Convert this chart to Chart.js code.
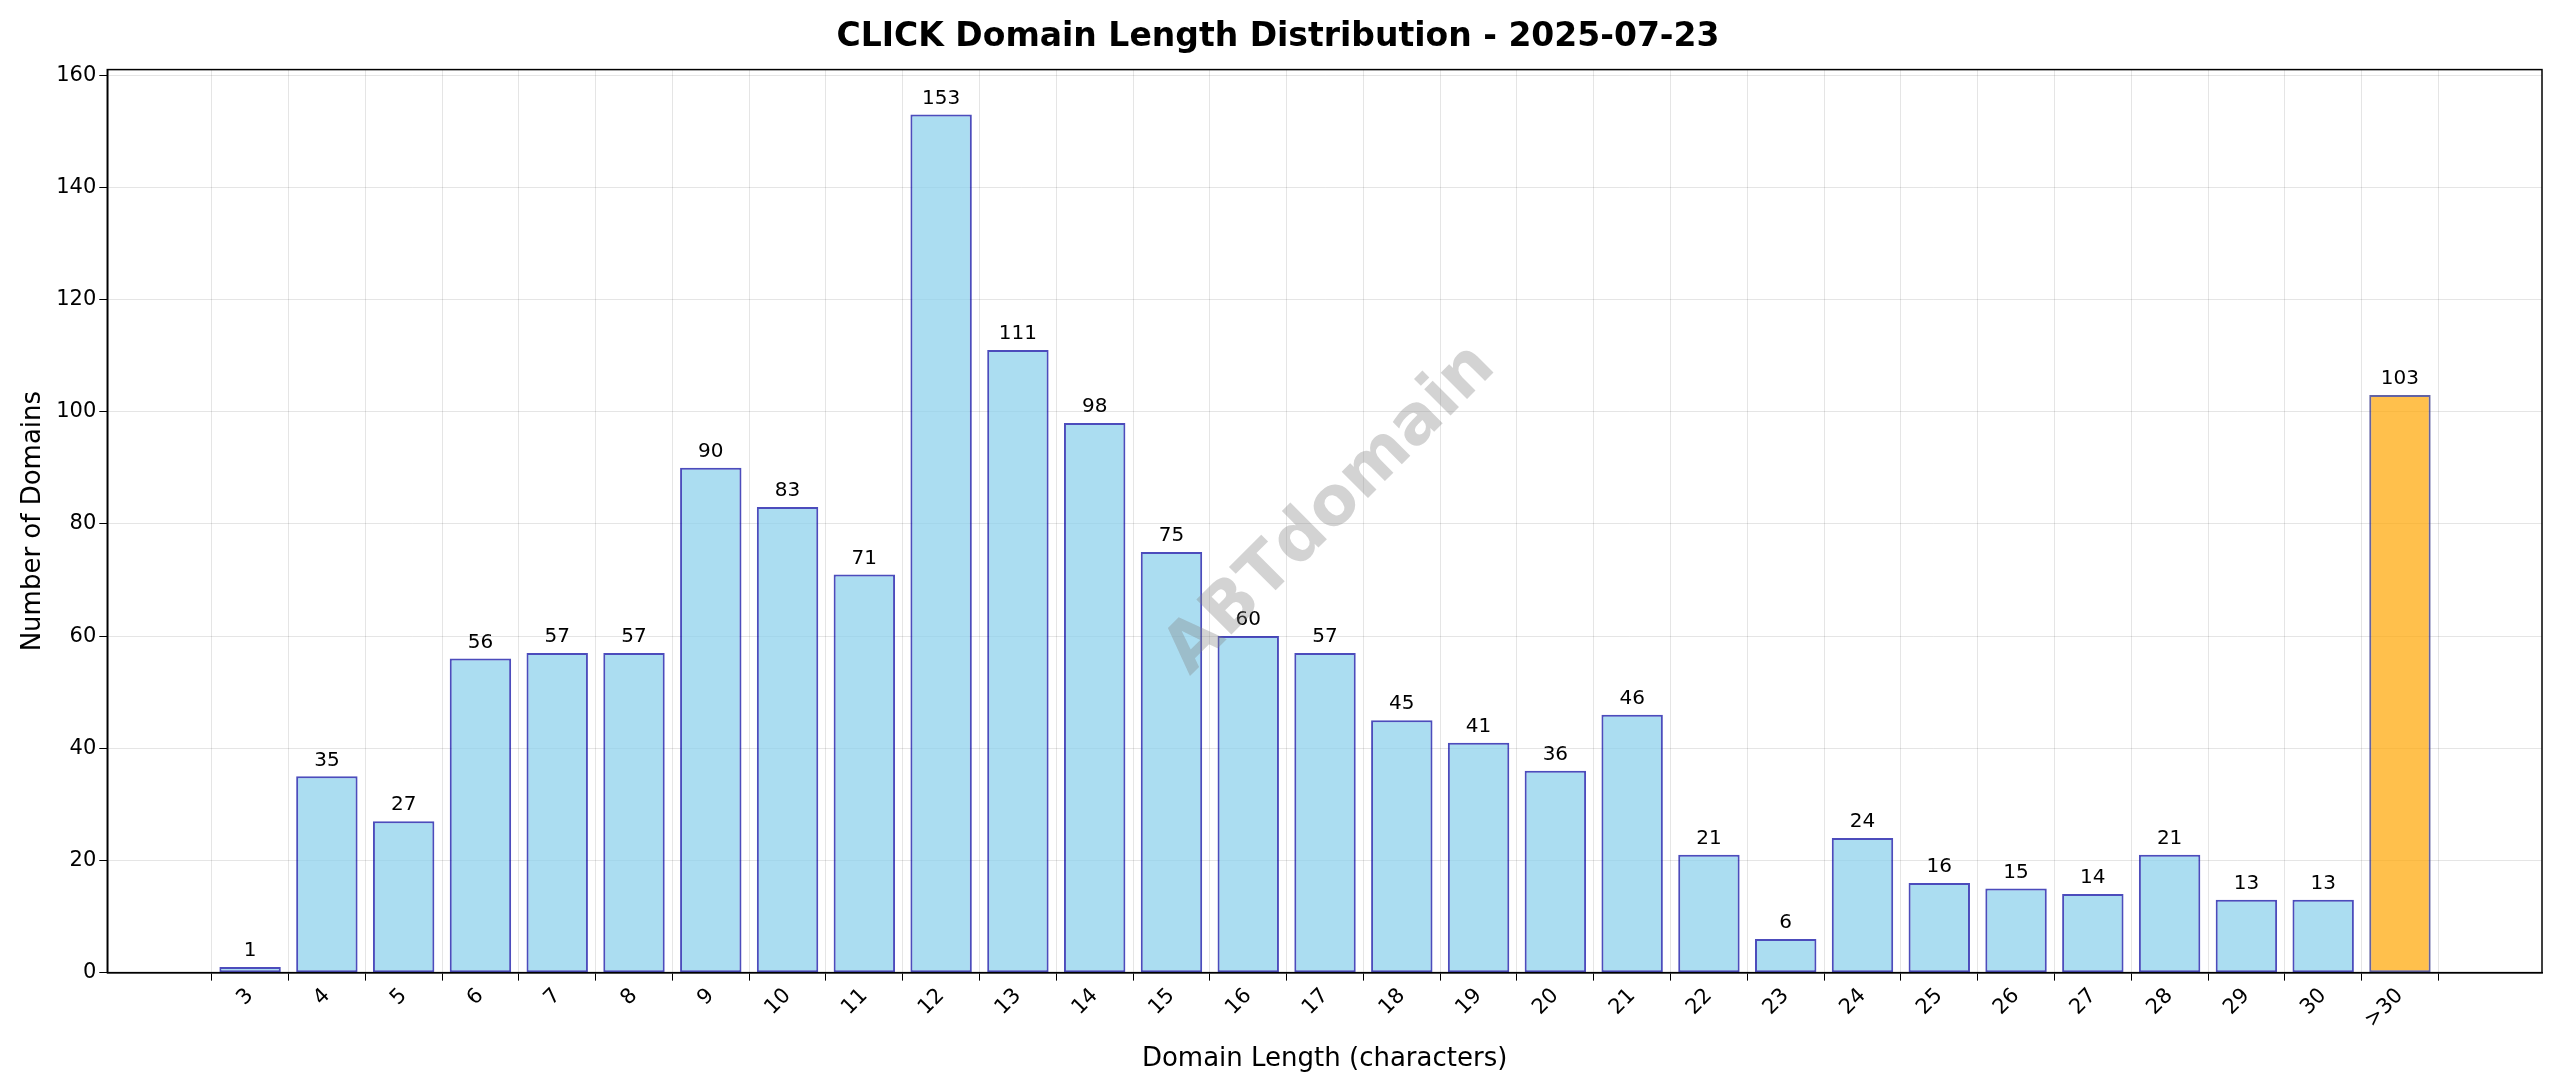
<!DOCTYPE html>
<html><head><meta charset="utf-8">
<script src="https://cdn.jsdelivr.net/npm/chart.js@4"></script>
<style>body{margin:0;background:#fff}#w{width:2560px;height:1087px}</style>
</head><body><div id="w"><canvas id="c" width="2560" height="1087"></canvas></div>
<script>
const categories=["3","4","5","6","7","8","9","10","11","12","13","14","15","16","17","18","19","20","21","22","23","24","25","26","27","28","29","30",">30"];
const counts=[1,35,27,56,57,57,90,83,71,153,111,98,75,60,57,45,41,36,46,21,6,24,16,15,14,21,13,13,103];
const yTicks=[0,20,40,60,80,100,120,140,160];
const F="DejaVu Sans";
const labelsPlugin={id:'lbl',afterDatasetsDraw(ch){const ctx=ch.ctx;const m=ch.getDatasetMeta(0);ctx.save();ctx.font="20px "+F;ctx.fillStyle="#000";ctx.textAlign="center";ctx.textBaseline="bottom";
m.data.forEach((b,i)=>ctx.fillText(String(counts[i]),b.x,b.y-6));
ctx.translate(1331,510);ctx.rotate(-Math.PI/4);ctx.font="bold 68px "+F;ctx.fillStyle="rgba(128,128,128,0.35)";ctx.textBaseline="middle";ctx.fillText("ABTdomain",0,0);ctx.restore();}};
new Chart(document.getElementById('c'),{type:'bar',
data:{datasets:[{data:counts.map((v,i)=>({x:i,y:v})),
backgroundColor:counts.map((v,i)=>i===28?'rgba(255,165,0,0.7)':'rgba(135,206,235,0.7)'),
borderColor:counts.map((v,i)=>i===28?'rgba(60,60,140,0.8)':'rgba(0,0,160,0.7)'),borderWidth:2,borderSkipped:false,barPercentage:0.8,categoryPercentage:1.0}]},
options:{responsive:false,animation:false,layout:{padding:{left:14,right:18,top:0,bottom:8}},
plugins:{legend:{display:false},tooltip:{enabled:false},title:{display:true,text:"CLICK Domain Length Distribution - 2025-07-23",font:{family:F,size:33,weight:'bold'},color:'#000',padding:{top:18,bottom:12}}},
scales:{x:{type:'linear',min:-1.86,max:29.85,offset:false,
afterBuildTicks(s){s.ticks=categories.map((c,i)=>({value:i}));},
ticks:{autoSkip:false,maxRotation:45,minRotation:45,font:{family:F,size:21},color:'#000',callback:(v)=>categories[v]},
grid:{color:'rgba(0,0,0,0.1)',drawTicks:true,tickColor:'#000',tickLength:8},border:{color:'#000',width:1.5},
title:{display:true,text:"Domain Length (characters)",font:{family:F,size:26},color:'#000',padding:{top:8}}},
y:{min:0,max:161,afterBuildTicks(s){s.ticks=yTicks.map(v=>({value:v}));},
ticks:{font:{family:F,size:21},color:'#000'},grid:{color:'rgba(0,0,0,0.1)',tickColor:'#000',tickLength:8},border:{color:'#000',width:1.5},
title:{display:true,text:"Number of Domains",font:{family:F,size:26},color:'#000'}}}},
plugins:[labelsPlugin,{id:'box',afterDraw(ch){const a=ch.chartArea,c=ch.ctx;c.save();c.strokeStyle='#000';c.lineWidth=1.5;c.strokeRect(a.left,a.top,a.right-a.left,a.bottom-a.top);c.restore();}}]});
</script></body></html>
